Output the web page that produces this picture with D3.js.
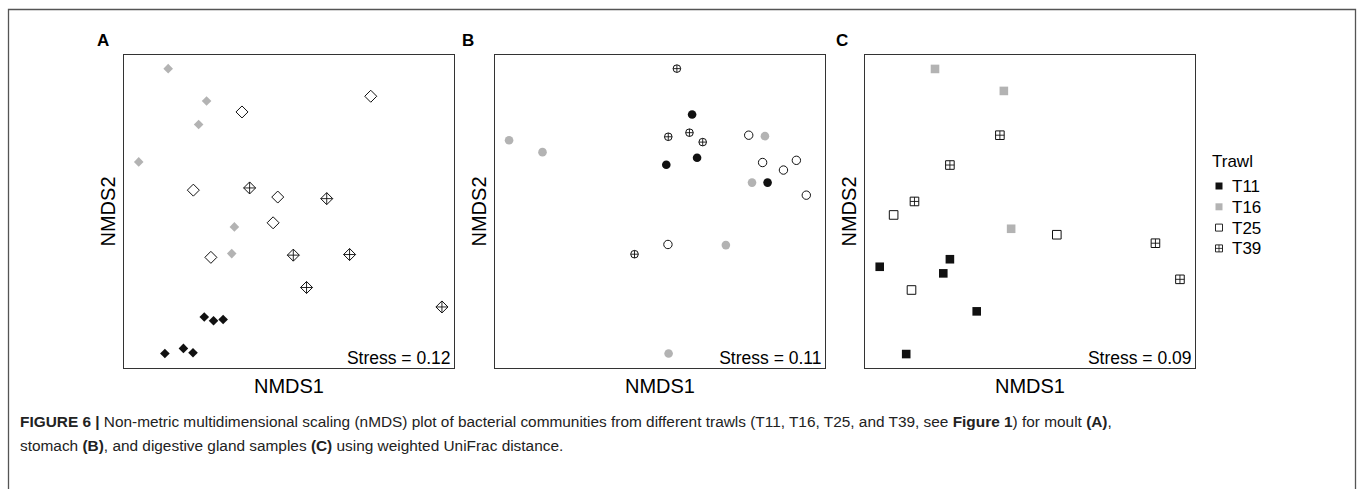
<!DOCTYPE html>
<html>
<head>
<meta charset="utf-8">
<script src="https://cdn.jsdelivr.net/npm/d3@7"></script>
<style>
  body { margin: 0; background: #fff; }
  svg { display: block; font-family: "Liberation Sans", Arial, sans-serif; }
</style>
</head>
<body>
<svg id="fig" width="1358" height="489"></svg>
<script>
// nMDS scores, scaled to the plot window (0..1)
const trawls = ['T11', 'T16', 'T25', 'T39'];

// A - moult
const moultT11 = [[0.244, 0.164], [0.272, 0.152], [0.301, 0.156], [0.125, 0.048], [0.181, 0.064], [0.210, 0.050]];
const moultT16 = [[0.135, 0.955], [0.251, 0.852], [0.227, 0.777], [0.046, 0.658], [0.335, 0.451], [0.327, 0.366]];
const moultT25 = [[0.358, 0.817], [0.747, 0.867], [0.211, 0.568], [0.466, 0.546], [0.452, 0.464], [0.264, 0.354]];
const moultT39 = [[0.381, 0.575], [0.614, 0.541], [0.513, 0.361], [0.683, 0.363], [0.553, 0.258], [0.962, 0.196]];

// B - stomach
const stomachT11 = [[0.597, 0.809], [0.612, 0.671], [0.519, 0.649], [0.825, 0.592]];
const stomachT16 = [[0.044, 0.727], [0.145, 0.689], [0.817, 0.740], [0.778, 0.592], [0.699, 0.393], [0.526, 0.048]];
const stomachT25 = [[0.768, 0.743], [0.810, 0.656], [0.873, 0.632], [0.912, 0.663], [0.942, 0.552], [0.524, 0.395]];
const stomachT39 = [[0.551, 0.955], [0.525, 0.738], [0.589, 0.751], [0.629, 0.721], [0.423, 0.364]];

// C - digestive gland
const glandT11 = [[0.046, 0.324], [0.258, 0.348], [0.238, 0.303], [0.339, 0.182], [0.126, 0.046]];
const glandT16 = [[0.213, 0.954], [0.421, 0.884], [0.443, 0.445]];
const glandT25 = [[0.088, 0.489], [0.581, 0.426], [0.142, 0.250]];
const glandT39 = [[0.409, 0.743], [0.258, 0.648], [0.151, 0.532], [0.879, 0.399], [0.953, 0.284]];

const panelLabels = ['A', 'B', 'C'];
const stressValues = ['0.12', '0.11', '0.09'];

const panels = [
  { label: 'A', shape: 'diamond', stress: stressValues[0], groups: [moultT11, moultT16, moultT25, moultT39] },
  { label: 'B', shape: 'circle', stress: stressValues[1], groups: [stomachT11, stomachT16, stomachT25, stomachT39] },
  { label: 'C', shape: 'square', stress: stressValues[2], groups: [glandT11, glandT16, glandT25, glandT39] }
];

const panelLeft = [123.5, 494.5, 864.5];
const panelTop = 54.5;
const panelW = 331;
const panelH = 314;
const grey = '#b3b3b3';
const dark = '#111';

const svg = d3.select('#fig');

// outer frame of the figure
svg.append('path')
  .attr('d', 'M8.5,489 V9.5 H1355.5 V489')
  .style('fill', 'none')
  .style('stroke', '#555')
  .style('stroke-width', 1.3);

// marker outline for each panel shape, r = half size
function outline(shape, r) {
  if (shape === 'diamond') return `M0,${-r}L${r},0L0,${r}L${-r},0Z`;
  if (shape === 'square') return `M${-r},${-r}H${r}V${r}H${-r}Z`;
  const p = d3.path();
  p.arc(0, 0, r, 0, 2 * Math.PI);
  return p.toString();
}

const sizes = {
  diamond: { fill: 4.8, open: 6.0 },
  circle: { fill: 4.3, open: 4.2 },
  square: { fill: 4.3, open: 4.3 }
};

function drawMarker(g, shape, ti) {
  const s = sizes[shape];
  if (ti === 0 || ti === 1) {
    g.append('path')
      .attr('d', outline(shape, s.fill))
      .style('fill', ti === 0 ? dark : grey)
      .style('stroke', 'none');
    return;
  }
  const r = shape === 'circle' && ti === 3 ? 3.8 : s.open;
  g.append('path')
    .attr('d', outline(shape, r))
    .style('fill', '#fff')
    .style('stroke', dark)
    .style('stroke-width', 1);
  if (ti === 3) {
    g.append('path')
      .attr('d', `M${-r},0H${r}M0,${-r}V${r}`)
      .style('stroke', dark)
      .style('stroke-width', 0.9);
  }
}

panels.forEach((panel, pi) => {
  const x = d3.scaleLinear().domain([0, 1]).range([0, panelW]);
  const y = d3.scaleLinear().domain([0, 1]).range([panelH, 0]);

  const g = svg.append('g')
    .attr('transform', `translate(${panelLeft[pi]},${panelTop})`);

  g.append('rect')
    .attr('width', panelW)
    .attr('height', panelH)
    .style('fill', 'none')
    .style('stroke', '#333')
    .style('stroke-width', 1);

  // panel letter
  svg.append('text')
    .attr('x', [97, 462, 836][pi])
    .attr('y', 46)
    .style('font-size', '17px')
    .style('font-weight', 'bold')
    .text(panelLabels[pi]);

  // axis titles
  g.append('text')
    .attr('x', panelW / 2)
    .attr('y', panelH + 24)
    .attr('text-anchor', 'middle')
    .style('font-size', '20px')
    .text('NMDS1');

  g.append('text')
    .attr('transform', `translate(-9,${panelH / 2}) rotate(-90)`)
    .attr('text-anchor', 'middle')
    .style('font-size', '20px')
    .text('NMDS2');

  g.append('text')
    .attr('x', panelW - 4)
    .attr('y', panelH - 5)
    .attr('text-anchor', 'end')
    .style('font-size', '17.5px')
    .text('Stress = ' + panel.stress);

  panel.groups.forEach((pts, ti) => {
    g.selectAll('.pt-' + ti)
      .data(pts)
      .enter()
      .append('g')
      .attr('class', 'pt-' + ti)
      .attr('transform', d => `translate(${x(d[0])},${y(d[1])})`)
      .each(function () { drawMarker(d3.select(this), panel.shape, ti); });
  });
});

// legend
const legend = svg.append('g').attr('transform', 'translate(1212,0)');
legend.append('text')
  .attr('x', 0)
  .attr('y', 167)
  .style('font-size', '17px')
  .text('Trawl');

trawls.forEach((t, i) => {
  const row = legend.append('g').attr('transform', `translate(7,${186 + i * 20.8})`);
  const r = 3.5;
  row.append('path')
    .attr('d', outline('square', r))
    .style('fill', i === 0 ? dark : i === 1 ? grey : '#fff')
    .style('stroke', i >= 2 ? dark : 'none')
    .style('stroke-width', 0.9);
  if (i === 3) {
    row.append('path')
      .attr('d', `M${-r},0H${r}M0,${-r}V${r}`)
      .style('stroke', dark)
      .style('stroke-width', 0.8);
  }
  row.append('text')
    .attr('x', 13)
    .attr('y', 6)
    .style('font-size', '17px')
    .text(t);
});

// caption
const caption = svg.append('g').style('font-size', '15.4px').style('fill', '#222');
const line1 = caption.append('text').attr('x', 20).attr('y', 427);
line1.append('tspan').style('font-weight', 'bold').text('FIGURE 6 | ');
line1.append('tspan').text('Non-metric multidimensional scaling (nMDS) plot of bacterial communities from different trawls (T11, T16, T25, and T39, see ');
line1.append('tspan').style('font-weight', 'bold').text('Figure 1');
line1.append('tspan').text(') for moult ');
line1.append('tspan').style('font-weight', 'bold').text('(A)');
line1.append('tspan').text(',');

const line2 = caption.append('text').attr('x', 20).attr('y', 451);
line2.append('tspan').text('stomach ');
line2.append('tspan').style('font-weight', 'bold').text('(B)');
line2.append('tspan').text(', and digestive gland samples ');
line2.append('tspan').style('font-weight', 'bold').text('(C)');
line2.append('tspan').text(' using weighted UniFrac distance.');
</script>
</body>
</html>
